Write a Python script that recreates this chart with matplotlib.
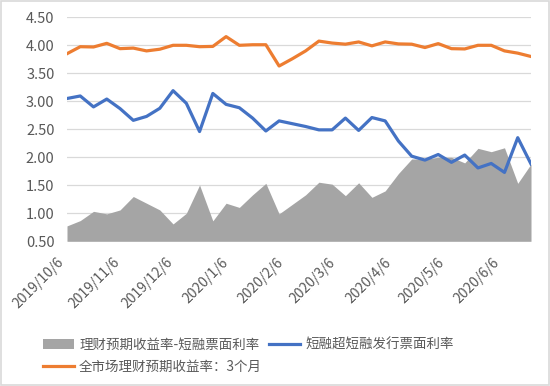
import numpy as np
import matplotlib
matplotlib.use("Agg")
import matplotlib.pyplot as plt
from matplotlib.patches import Patch, Rectangle
from matplotlib.lines import Line2D
from datetime import date

plt.rcParams['font.family'] = ['Noto Sans CJK SC', 'DejaVu Sans']

# weekly-ish observations, 36 points
spread = [0.775, 0.87, 1.035, 0.99, 1.06, 1.30, 1.18, 1.06, 0.81, 1.00, 1.505, 0.865,
          1.18, 1.105, 1.33, 1.535, 0.99, 1.16, 1.33, 1.555, 1.52, 1.315, 1.545, 1.285,
          1.40, 1.71, 1.97, 1.97, 2.00, 2.00, 1.90, 2.16, 2.10, 2.17, 1.535, 1.88]
cp_rate = [3.05, 3.095, 2.90, 3.04, 2.87, 2.66, 2.73, 2.875, 3.19, 2.965, 2.46, 3.14,
           2.945, 2.885, 2.70, 2.47, 2.65, 2.60, 2.55, 2.49, 2.49, 2.70, 2.48, 2.71,
           2.65, 2.29, 2.02, 1.95, 2.05, 1.91, 2.04, 1.81, 1.89, 1.73, 2.35, 1.88]
wm_yield = [3.85, 3.975, 3.97, 4.035, 3.94, 3.95, 3.90, 3.93, 4.00, 4.00, 3.975, 3.98,
            4.155, 4.00, 4.01, 4.01, 3.63, 3.76, 3.90, 4.075, 4.04, 4.02, 4.06, 3.99,
            4.06, 4.025, 4.02, 3.96, 4.03, 3.94, 3.935, 4.00, 4.00, 3.90, 3.86, 3.80]

tick_dates = [date(2019, 10, 6), date(2019, 11, 6), date(2019, 12, 6), date(2020, 1, 6),
              date(2020, 2, 6), date(2020, 3, 6), date(2020, 4, 6), date(2020, 5, 6),
              date(2020, 6, 6)]
tick_labels = ['2019/10/6', '2019/11/6', '2019/12/6', '2020/1/6', '2020/2/6',
               '2020/3/6', '2020/4/6', '2020/5/6', '2020/6/6']

labels = ['理财预期收益率-短融票面利率', '短融超短融发行票面利率', '全市场理财预期收益率：3个月']

GRAY = '#A5A5A5'
BLUE = '#4472C4'
ORANGE = '#ED7D31'
TXT = '#595959'

fig = plt.figure(figsize=(5.5, 3.86), dpi=100)
ax = fig.add_axes([67 / 550, 1 - 241.3 / 386, (531 - 67) / 550, (241.3 - 17.3) / 386])

x = np.arange(len(spread))
ax.fill_between(x, 0.5, spread, color=GRAY, lw=0, zorder=2)
ax.plot(x, cp_rate, color=BLUE, lw=2.3, zorder=3)
ax.plot(x, wm_yield, color=ORANGE, lw=2.3, zorder=4)

ax.set_xlim(0, len(spread) - 1)
ax.set_ylim(0.5, 4.5)
ax.set_yticks(np.arange(0.5, 4.51, 0.5))
ax.yaxis.set_major_formatter(matplotlib.ticker.FormatStrFormatter('%.2f'))
ax.grid(axis='y', color='#D9D9D9', lw=0.9, zorder=0)
ax.set_axisbelow(True)
for s in ax.spines.values():
    s.set_visible(False)

days_per_point = 7.43
tick_pos = [(d - tick_dates[0]).days / days_per_point for d in tick_dates]
ax.set_xticks(tick_pos)
ax.set_xticklabels(tick_labels, rotation=45, ha='right', va='top')
ax.tick_params(axis='x', length=0, pad=10, labelsize=10, labelcolor=TXT)
ax.tick_params(axis='y', length=0, pad=9, labelsize=10.5, labelcolor=TXT)

handles = [Patch(color=GRAY, lw=0),
           Line2D([], [], color=ORANGE, lw=2.3),
           Line2D([], [], color=BLUE, lw=2.3)]
fig.legend(handles, [labels[0], labels[2], labels[1]], ncol=2, frameon=False,
           loc='upper left', bbox_to_anchor=(36 / 550, 1 - 331 / 386),
           fontsize=9.7, labelcolor=TXT, handlelength=2.3, handletextpad=0.4,
           columnspacing=0.5, labelspacing=0.6, borderpad=0)

fig.patches.append(Rectangle((0.002, 0.003), 0.996, 0.994, transform=fig.transFigure,
                             fill=False, edgecolor='#D9D9D9', lw=1.2))

fig.savefig('out.png', dpi=100)
